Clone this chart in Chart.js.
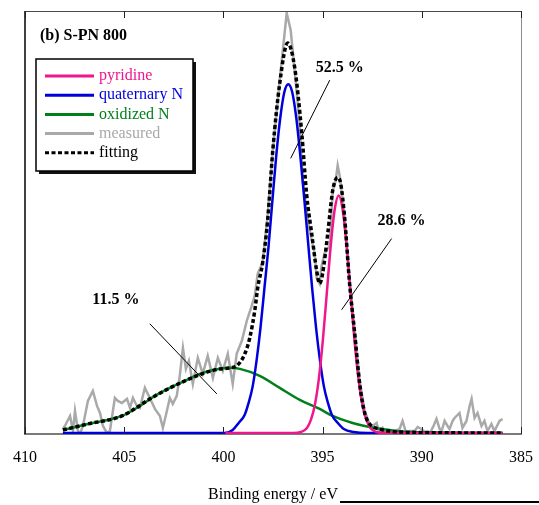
<!DOCTYPE html>
<html>
<head>
<meta charset="utf-8">
<script src="https://cdn.jsdelivr.net/npm/chart.js@4/dist/chart.umd.min.js"></script>
<style>
  body { margin: 0; background: #fff; }
  #wrap { width: 539px; height: 505px; }
</style>
</head>
<body>
<div id="wrap"><canvas id="xps"></canvas></div>
<script>
// XPS N1s spectrum of S-PN 800 (eV / intensity)
const measuredEv = [408.09, 407.99, 407.73, 407.58, 407.48, 407.33, 407.23, 407.08, 406.83, 406.58,
  406.37, 406.22, 406.07, 405.87, 405.72, 405.47, 405.32, 405.12, 404.86, 404.71,
  404.56, 404.36, 404.21, 403.96, 403.71, 403.45, 403.20, 403.05, 402.85, 402.70,
  402.55, 402.35, 402.20, 402.04, 401.89, 401.74, 401.54, 401.29, 401.04, 400.79,
  400.53, 400.28, 400.03, 399.78, 399.53, 399.33, 399.07, 398.82, 398.57, 398.42,
  398.27, 398.02, 397.77, 397.51, 397.16, 396.81, 396.61, 396.41, 396.15, 396.00,
  395.90, 395.65, 395.40, 395.30, 395.15, 395.05, 394.90, 394.64, 394.49, 394.34,
  394.24, 394.14, 393.89, 393.64, 393.38, 393.13, 392.88, 392.63, 392.48, 392.28,
  392.13, 391.97, 391.82, 391.62, 391.37, 391.12, 390.97, 390.77, 390.57, 390.36,
  390.21, 390.01, 389.81, 389.61, 389.41, 389.26, 389.10, 389.00, 388.85, 388.70,
  388.60, 388.45, 388.35, 388.10, 387.95, 387.75, 387.59, 387.49, 387.34, 387.19,
  386.99, 386.84, 386.69, 386.49, 386.34, 386.08, 385.93];
const measuredCounts = [4, 7, 17, 2, 22, 2, -1, 7, 32, 42,
  27, 20, 7, 0, 2, 35, 32, 30, 34, 25,
  35, 27, 25, 45, 35, 24, 17, 5, 22, 35,
  29, 37, 57, 85, 64, 72, 49, 75, 59, 77,
  55, 75, 62, 79, 49, 79, 92, 112, 127, 137,
  159, 170, 217, 282, 352, 419, 402, 362, 307, 252,
  235, 202, 179, 155, 149, 167, 179, 187, 242, 252,
  267, 257, 217, 152, 102, 52, 22, 9, 7, 10,
  -1, 5, 0, 0, 2, 4, 12, -1, 2, 2,
  6, 4, 0, -1, 7, 14, 4, 2, 12, 7,
  4, 12, 15, 20, 5, 12, 27, 34, 15, 20,
  7, 12, 2, 9, 2, 12, 14];

const pyridineEv = [399.90, 396.49, 396.09, 395.79, 395.59, 395.39, 395.19, 394.99, 394.79, 394.59,
  394.39, 394.19, 393.99, 393.79, 393.59, 393.39, 393.19, 392.99, 392.79, 392.59,
  392.29, 391.89, 385.93];
const pyridineCounts = [0, 0, 1, 5, 13, 28, 54, 92, 139, 187,
  223, 237, 223, 187, 139, 92, 54, 28, 13, 5,
  1, 0, 0];

const quaternaryEv = [408.09, 399.93, 399.53, 399.23, 398.93, 398.73, 398.53, 398.33, 398.13, 397.93,
  397.73, 397.53, 397.33, 397.13, 396.93, 396.73, 396.53, 396.33, 396.13, 395.93,
  395.73, 395.53, 395.33, 395.13, 394.93, 394.73, 394.53, 394.23, 393.93, 393.43,
  392.73, 385.93];
const quaternaryCounts = [0, 0, 3, 10, 18, 30, 46, 72, 105, 145,
  185, 232, 278, 315, 340, 348, 340, 315, 278, 235,
  190, 145, 105, 72, 46, 30, 18, 10, 4, 1,
  0, 0];

const oxidizedEv = [408.09, 406.83, 405.12, 404.21, 403.45, 402.70, 401.94, 401.19, 400.43, 399.68,
  399.17, 398.17, 397.16, 396.15, 395.15, 394.49, 393.49, 392.63, 391.62, 390.62, 385.93];
const oxidizedCounts = [3, 9, 17, 27, 37, 45, 52, 59, 63, 65,
  64, 57, 45, 33, 24, 17, 10, 6, 3, 1, 0];

const fittingEv = [408.09, 406.83, 405.12, 403.45, 401.94, 400.43, 399.68, 399.33, 398.92, 398.67,
  398.42, 398.27, 398.02, 397.77, 397.51, 397.16, 396.76, 396.41, 396.05, 395.80,
  395.55, 395.30, 395.15, 395.00, 394.74, 394.49, 394.24, 394.09, 393.89, 393.64,
  393.38, 393.13, 392.88, 392.63, 392.13, 391.12, 385.93];
const fittingCounts = [3, 9, 17, 37, 52, 63, 65, 67, 79, 95,
  122, 145, 170, 212, 282, 349, 389, 365, 299, 237,
  199, 162, 149, 159, 199, 242, 255, 249, 215, 149,
  99, 49, 20, 9, 4, 1, 0];

const xTicks = [410, 405, 400, 395, 390, 385];

// percentages and their leader lines, in data units [eV, intensity]
const notes = [
  { text: '52.5 %', at: [394.14, 364], from: [394.64, 352], to: [396.61, 274] },
  { text: '28.6 %', at: [391.02, 212], from: [391.52, 194], to: [394.04, 123] },
  { text: '11.5 %', at: [405.42, 133], from: [403.71, 109], to: [400.33, 39] }
];

const serif = '"Liberation Serif", "Times New Roman", serif';
const PINK = '#f0168c', BLUE = '#0000dc', GREEN = '#00801a', GREY = '#a9a9a9';

function pts(xs, ys) { return xs.map((x, i) => ({ x: x, y: ys[i] })); }

const framePlugin = {
  id: 'frame',
  afterDatasetsDraw(chart) {
    const { ctx, chartArea: a, scales } = chart;
    ctx.save();
    // top + right + left borders
    ctx.lineWidth = 1;
    ctx.strokeStyle = '#4a4a4a';
    ctx.beginPath(); ctx.moveTo(a.left, a.top + 0.5); ctx.lineTo(a.right, a.top + 0.5); ctx.stroke();
    ctx.strokeStyle = '#8c8c8c';
    ctx.beginPath(); ctx.moveTo(a.right + 0.5, a.top); ctx.lineTo(a.right + 0.5, a.bottom); ctx.stroke();
    ctx.strokeStyle = '#000';
    ctx.lineWidth = 1.5;
    ctx.beginPath(); ctx.moveTo(a.left, a.top); ctx.lineTo(a.left, a.bottom); ctx.stroke();
    // inward ticks
    ctx.lineWidth = 1;
    ctx.strokeStyle = '#222';
    xTicks.forEach(v => {
      const px = Math.round(scales.x.getPixelForValue(v)) + 0.5;
      ctx.beginPath(); ctx.moveTo(px, a.bottom); ctx.lineTo(px, a.bottom - 7); ctx.stroke();
      ctx.beginPath(); ctx.moveTo(px, a.top); ctx.lineTo(px, a.top + 7); ctx.stroke();
    });
    ctx.restore();
  },
  afterDraw(chart) {
    const { ctx, chartArea: a, scales } = chart;
    ctx.save();
    // panel title
    ctx.font = 'bold 16px ' + serif;
    ctx.fillStyle = '#000';
    ctx.textBaseline = 'middle';
    ctx.textAlign = 'left';
    ctx.fillText('(b) S-PN 800', a.left + 15, a.top + 25);
    // percentages
    notes.forEach(n => {
      const X = v => scales.x.getPixelForValue(v), Y = v => scales.y.getPixelForValue(v);
      ctx.textAlign = 'center';
      ctx.fillText(n.text, X(n.at[0]), Y(n.at[1]));
      ctx.lineWidth = 1;
      ctx.strokeStyle = '#000';
      ctx.beginPath(); ctx.moveTo(X(n.from[0]), Y(n.from[1])); ctx.lineTo(X(n.to[0]), Y(n.to[1])); ctx.stroke();
    });
    // legend box with shadow
    const x0 = a.left + 11, y0 = a.top + 48, w = 157, h = 112;
    ctx.fillStyle = '#111';
    ctx.fillRect(x0 + 3, y0 + 3, w, h);
    ctx.fillStyle = '#fff';
    ctx.fillRect(x0, y0, w, h);
    ctx.strokeStyle = '#000';
    ctx.lineWidth = 1.5;
    ctx.strokeRect(x0, y0, w, h);
    ctx.font = '16px ' + serif;
    ctx.textAlign = 'left';
    chart.data.datasets.forEach((ds, i) => {
      const ry = y0 + 17 + i * 19.2;
      ctx.strokeStyle = ds.borderColor;
      ctx.lineWidth = 3;
      ctx.setLineDash(ds.borderDash || []);
      ctx.beginPath(); ctx.moveTo(x0 + 9, ry); ctx.lineTo(x0 + 58, ry); ctx.stroke();
      ctx.setLineDash([]);
      ctx.fillStyle = ds.borderColor;
      ctx.fillText(ds.label, x0 + 63, ry);
    });
    // stray rule under the axis title
    ctx.strokeStyle = '#000';
    ctx.lineWidth = 2;
    ctx.beginPath(); ctx.moveTo(340, 502); ctx.lineTo(539, 502); ctx.stroke();
    ctx.restore();
  }
};

new Chart(document.getElementById('xps'), {
  type: 'line',
  data: {
    datasets: [
      { label: 'pyridine', data: pts(pyridineEv, pyridineCounts), borderColor: PINK, borderWidth: 2.5, order: 1, cubicInterpolationMode: 'monotone' },
      { label: 'quaternary N', data: pts(quaternaryEv, quaternaryCounts), borderColor: BLUE, borderWidth: 2.5, order: 2, cubicInterpolationMode: 'monotone' },
      { label: 'oxidized N', data: pts(oxidizedEv, oxidizedCounts), borderColor: GREEN, borderWidth: 2.5, order: 3, cubicInterpolationMode: 'monotone' },
      { label: 'measured', data: pts(measuredEv, measuredCounts), borderColor: GREY, borderWidth: 2.5, order: 4, tension: 0 },
      { label: 'fitting', data: pts(fittingEv, fittingCounts), borderColor: '#000', borderWidth: 3.5, borderDash: [4, 2.5], order: 0, cubicInterpolationMode: 'monotone' }
    ]
  },
  options: {
    responsive: true,
    maintainAspectRatio: false,
    animation: false,
    events: [],
    elements: { point: { radius: 0 }, line: { fill: false } },
    layout: { padding: { left: 25, right: 18, top: 11, bottom: 0.6 } },
    plugins: { legend: { display: false }, tooltip: { enabled: false } },
    scales: {
      x: {
        type: 'linear', reverse: true, min: 385, max: 410,
        afterBuildTicks: s => { s.ticks = xTicks.map(v => ({ value: v })); },
        afterFit: s => { s.paddingLeft = 0; s.paddingRight = 0; },
        ticks: { color: '#000', font: { family: serif, size: 16 }, padding: 14, maxRotation: 0, autoSkip: false },
        grid: { display: false, drawTicks: false },
        border: { display: true, color: '#7a7a7a', width: 2 },
        title: { display: true, text: 'Binding energy / eV', color: '#000', font: { family: serif, size: 16 }, padding: { top: 4, bottom: 0 } }
      },
      y: { display: false, min: -1, max: 421 }
    }
  },
  plugins: [framePlugin]
});
</script>
</body>
</html>
